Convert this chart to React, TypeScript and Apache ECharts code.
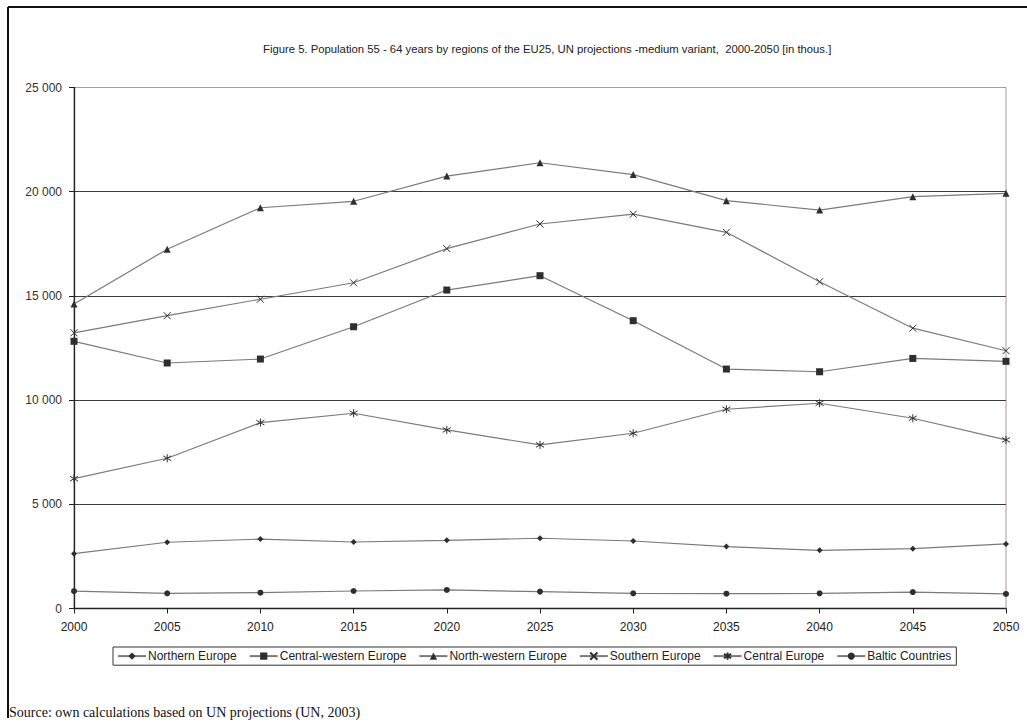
import React, { useEffect, useRef } from 'react';
import * as echarts from 'echarts';

const titleText = 'Figure 5. Population 55 - 64 years by regions of the EU25, UN projections -medium variant,  2000-2050 [in thous.]';
const sourceText = 'Source: own calculations based on UN projections (UN, 2003)';

const years = ['2000', '2005', '2010', '2015', '2020', '2025', '2030', '2035', '2040', '2045', '2050'];
const seriesNames = ['Northern Europe', 'Central-western Europe', 'North-western Europe', 'Southern Europe', 'Central Europe', 'Baltic Countries'];

const northernEurope = [2630, 3180, 3330, 3190, 3270, 3370, 3240, 2970, 2790, 2870, 3100];
const centralWesternEurope = [12820, 11780, 11970, 13520, 15280, 15970, 13810, 11490, 11360, 12000, 11860];
const northWesternEurope = [14610, 17240, 19230, 19540, 20750, 21390, 20820, 19570, 19120, 19760, 19920];
const southernEurope = [13230, 14050, 14840, 15630, 17270, 18450, 18920, 18050, 15680, 13450, 12370];
const centralEurope = [6230, 7210, 8920, 9370, 8570, 7850, 8410, 9560, 9850, 9130, 8090];
const balticCountries = [830, 730, 760, 840, 890, 810, 730, 710, 730, 790, 700];

const yMin = 0;
const yMax = 25000;
const yStep = 5000;

const X_PATH = 'path://M0,0L10,10M10,0L0,10';
const AST_PATH = 'path://M2,2L8,8M8,2L2,8M5,0L5,10';

const LINE_COLOR = '#7a7a7a';
const MARK_COLOR = '#2e2e2e';
const FONT = '"Liberation Sans", Arial, sans-serif';

function fmt(v: number): string {
  return String(v).replace(/\B(?=(\d{3})+(?!\d))/g, ' ');
}

export default function App() {
  const ref = useRef<HTMLDivElement>(null);
  useEffect(() => {
    if (!ref.current) return;
    const chart = echarts.init(ref.current, null, { renderer: 'svg' });
    const values = [northernEurope, centralWesternEurope, northWesternEurope, southernEurope, centralEurope, balticCountries];
    const symbols: any[] = ['diamond', 'rect', 'triangle', X_PATH, AST_PATH, 'circle'];
    const sizes: any[] = [6, 7, 7, 7, 8, 6];
    const series = seriesNames.map((name, i) => {
      const stroked = i === 3 || i === 4;
      return {
        name,
        type: 'line',
        data: values[i],
        symbol: symbols[i],
        symbolSize: sizes[i],
        showSymbol: true,
        lineStyle: { color: LINE_COLOR, width: 1.2 },
        itemStyle: stroked
          ? { color: 'none', borderColor: MARK_COLOR, borderWidth: 1 }
          : { color: MARK_COLOR, borderWidth: 0 },
        emphasis: { disabled: true },
      };
    });
    chart.setOption({
      animation: false,
      backgroundColor: '#ffffff',
      title: {
        text: titleText,
        left: 258,
        top: 38,
        textStyle: { fontFamily: FONT, fontSize: 11.3, fontWeight: 'normal', color: '#222' },
      },
      grid: {
        left: 74,
        right: 21,
        top: 87.5,
        bottom: 118.5,
        show: true,
        borderColor: '#a89c9c',
        borderWidth: 1,
        backgroundColor: 'transparent',
      },
      legend: {
        data: seriesNames,
        left: 113,
        top: 647,
        orient: 'horizontal',
        padding: [3, 5, 3, 4],
        itemGap: 12,
        itemWidth: 28,
        itemHeight: 9,
        borderColor: '#333',
        borderWidth: 1,
        textStyle: { fontFamily: FONT, fontSize: 12, color: '#222', padding: [0, 0, 0, -3] },
      },
      xAxis: {
        type: 'category',
        data: years,
        boundaryGap: false,
        axisLine: { show: true, lineStyle: { color: '#222', width: 1.3 } },
        axisTick: { show: true, alignWithLabel: true, length: 5, lineStyle: { color: '#222' } },
        axisLabel: { fontFamily: FONT, fontSize: 12, color: '#222', margin: 12 },
        splitLine: { show: false },
      },
      yAxis: {
        type: 'value',
        min: yMin,
        max: yMax,
        interval: yStep,
        axisLine: { show: true, lineStyle: { color: '#222', width: 1.3 } },
        axisTick: { show: true, length: 5, lineStyle: { color: '#222' } },
        axisLabel: { fontFamily: FONT, fontSize: 12, color: '#333', margin: 12, formatter: (v: number) => fmt(v) },
        splitLine: {
          show: true,
          lineStyle: { color: ['#3a3a3a', '#3a3a3a', '#3a3a3a', '#3a3a3a', '#3a3a3a', '#a89c9c'], width: 1.2 },
        },
      },
      graphic: [
        { type: 'line', shape: { x1: 8, y1: 7, x2: 1027, y2: 7 }, style: { stroke: '#111', lineWidth: 2 } },
        { type: 'line', shape: { x1: 8, y1: 7, x2: 8, y2: 718 }, style: { stroke: '#111', lineWidth: 2 } },
        {
          type: 'text',
          left: 9,
          top: 705,
          style: { text: sourceText, fontFamily: '"Liberation Serif", "Times New Roman", serif', fontSize: 14, fill: '#111' },
        },
      ],
      series,
    });
    return () => chart.dispose();
  }, []);
  return <div ref={ref} style={{ position: 'fixed', left: 0, top: 0, width: 1027, height: 727 }} />;
}
